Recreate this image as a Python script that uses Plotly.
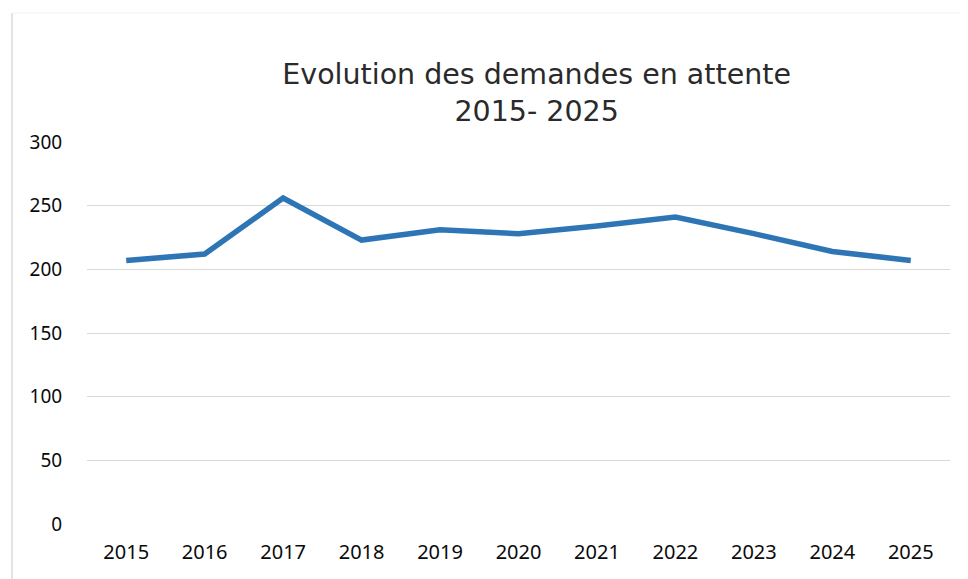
import plotly.graph_objects as go

years = ["2015", "2016", "2017", "2018", "2019", "2020", "2021", "2022", "2023", "2024", "2025"]
demandes = [207, 212, 256, 223, 231, 228, 234, 241, 228, 214, 207]
y_ticks = [0, 50, 100, 150, 200, 250, 300]

title_text = "Evolution des demandes en attente<br>2015- 2025"

# the page places the figure 8px from the top-left corner (default body margin)
W, H = 960, 571
L, R, T, B = 79, 18, 134, 55
pw, ph = W - L - R, H - T - B

fig = go.Figure()
fig.add_trace(go.Scatter(
    x=years, y=demandes, mode="lines",
    line=dict(color="#2E75B6", width=5.5),
    hoverinfo="x+y",
))

fig.update_layout(
    width=W, height=H,
    margin=dict(l=L, r=R, t=T, b=B, autoexpand=False),
    paper_bgcolor="white", plot_bgcolor="white",
    showlegend=False,
    title=dict(
        text=title_text,
        x=0.521, xref="paper", xanchor="center",
        y=1 - 76 / H, yref="container", yanchor="top",
        font=dict(family="DejaVu Sans", size=28.5, color="#2a2a2a"),
    ),
    font=dict(family="Noto Sans", size=20, color="#0a0a0a"),
)

fig.update_xaxes(
    type="category", range=[-0.5, 10.5],
    showgrid=False, showline=False, zeroline=False, automargin=False,
    ticks="outside", ticklen=10, tickcolor="rgba(0,0,0,0)",
    tickfont=dict(family="Noto Sans", size=20, color="#0a0a0a"),
)
fig.update_yaxes(
    range=[0, 300], tickvals=y_ticks,
    showgrid=True, gridcolor="#d9d9d9", gridwidth=1,
    zeroline=False, showline=False, automargin=False,
    ticks="outside", ticklen=20, tickcolor="rgba(0,0,0,0)",
    tickfont=dict(family="Noto Sans", size=19, color="#0a0a0a"),
)

# faint chart border (left and top edges visible in the scan)
bx = (4 - L) / pw
by = (H - 5 - B) / ph
fig.add_shape(type="line", xref="paper", yref="paper",
              x0=bx, x1=bx, y0=-B / ph, y1=by,
              line=dict(color="#e3e3e3", width=2))
fig.add_shape(type="line", xref="paper", yref="paper",
              x0=bx, x1=(W - L) / pw, y0=by, y1=by,
              line=dict(color="#f2f2f2", width=1))

fig.write_html("out.html")
